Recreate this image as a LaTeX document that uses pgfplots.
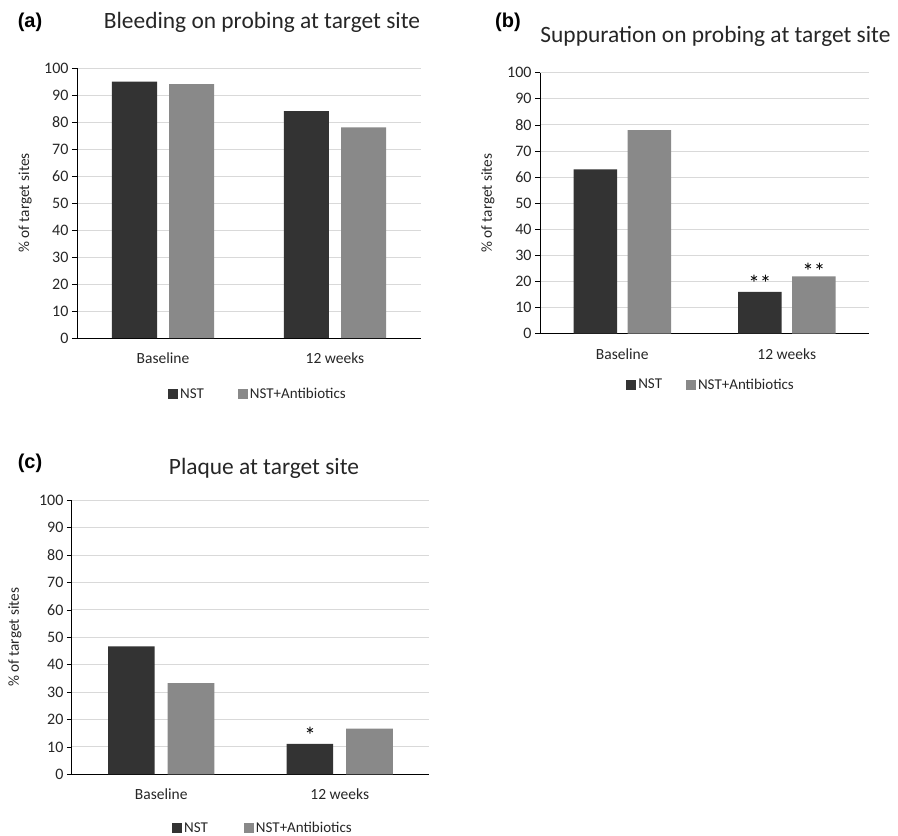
\documentclass[border=0pt]{standalone}
\usepackage{fontspec}
\setmainfont{Carlito}
\newfontfamily\arialfont{Liberation Sans}
\usepackage{pgfplots}
\pgfplotsset{compat=1.18}
\definecolor{darkbar}{HTML}{333333}
\definecolor{lightbar}{HTML}{898989}
\definecolor{gridc}{HTML}{D9D9D9}
\definecolor{txt}{HTML}{262626}
\pgfplotsset{
 panel/.style={
  scale only axis, anchor=south west,
  ybar, ymin=0, ymax=100, ytick={0,10,...,100},
  xmin=-0.5, xmax=1.5, xtick={0,1}, xticklabels={Baseline,12 weeks},
  axis x line*=bottom, axis y line*=left,
  axis line style={black, line width=1pt},
  x tick style={draw=none},
  y tick style={black, line width=0.8pt},
  tick align=outside, major tick length=5pt,
  ymajorgrids, grid style={gridc, line width=1pt},
  ticklabel style={font=\fontsize{16}{18}\selectfont, text=txt},
  xticklabel style={yshift=-6pt, font=\fontsize{15.5}{18}\selectfont},
  /pgf/number format/assume math mode=true,
  ylabel={\% of target sites},
  ylabel style={font=\fontsize{15.3}{17}\selectfont, text=txt, anchor=center},
  legend columns=2,
  legend style={draw=none, fill=none, font=\fontsize{15}{17}\selectfont, text=txt, anchor=center},
  legend image code/.code={\fill[##1] (0pt,-5pt) rectangle (10pt,5pt);},
  nodes near coords style={font=\fontsize{23}{23}\selectfont, text=black, anchor=center},
 }
}
\begin{document}
\begin{tikzpicture}
\path[use as bounding box] (0,0) rectangle (898pt,-836pt);
% ---------- (a)
\node[font=\arialfont\bfseries\fontsize{20}{21}\selectfont] at (30pt,-22pt) {(a)};
\node[font=\fontsize{23.4}{25}\selectfont, text=txt] at (262pt,-22pt) {Bleeding on probing at target site};
\begin{axis}[panel, at={(77pt,-338pt)}, width=344pt, height=270pt,
  ylabel style={at={(axis description cs:-0.151,0.5)}},
  legend style={at={(0.526,-0.207)}, /tikz/every even column/.append style={column sep=32pt}}]
\addplot[fill=darkbar, draw=none, bar width=45pt, bar shift=-28.5pt] coordinates {(0,95) (1,84)};
\addplot[fill=lightbar, draw=none, bar width=45pt, bar shift=28.5pt] coordinates {(0,94) (1,78)};
\legend{NST,NST+Antibiotics}
\end{axis}
% ---------- (b)
\node[font=\arialfont\bfseries\fontsize{20}{21}\selectfont] at (508pt,-22pt) {(b)};
\node[font=\fontsize{23.4}{25}\selectfont, text=txt] at (715.5pt,-36pt) {Suppuration on probing at target site};
\begin{axis}[panel, at={(540pt,-333.7pt)}, width=329pt, height=261pt,
  ylabel style={at={(axis description cs:-0.158,0.5)}},
  legend style={at={(0.52,-0.195)}, /tikz/every even column/.append style={column sep=22pt}}]
\addplot[fill=darkbar, draw=none, bar width=43.5pt, bar shift=-27pt,
  point meta=explicit symbolic, nodes near coords, nodes near coords style={yshift=9pt}]
  coordinates {(0,63) [\relax] (1,16) [**]};
\addplot[fill=lightbar, draw=none, bar width=43.5pt, bar shift=27pt,
  point meta=explicit symbolic, nodes near coords, nodes near coords style={yshift=5pt}]
  coordinates {(0,78) [\relax] (1,22) [**]};
\legend{NST,NST+Antibiotics}
\end{axis}
% ---------- (c)
\node[font=\arialfont\bfseries\fontsize{20}{21}\selectfont] at (30pt,-463pt) {(c)};
\node[font=\fontsize{23.4}{25}\selectfont, text=txt] at (264pt,-468pt) {Plaque at target site};
\begin{axis}[panel, at={(72pt,-774.3pt)}, width=357pt, height=274pt,
  ylabel style={at={(axis description cs:-0.160,0.5)}},
  legend style={at={(0.535,-0.197)}, /tikz/every even column/.append style={column sep=34pt}}]
\addplot[fill=darkbar, draw=none, bar width=46.5pt, bar shift=-29.75pt,
  point meta=explicit symbolic, nodes near coords, nodes near coords style={yshift=9pt}]
  coordinates {(0,46.7) [\relax] (1,11.1) [*]};
\addplot[fill=lightbar, draw=none, bar width=46.5pt, bar shift=29.75pt] coordinates {(0,33.3) (1,16.7)};
\legend{NST,NST+Antibiotics}
\end{axis}
\end{tikzpicture}
\end{document}
